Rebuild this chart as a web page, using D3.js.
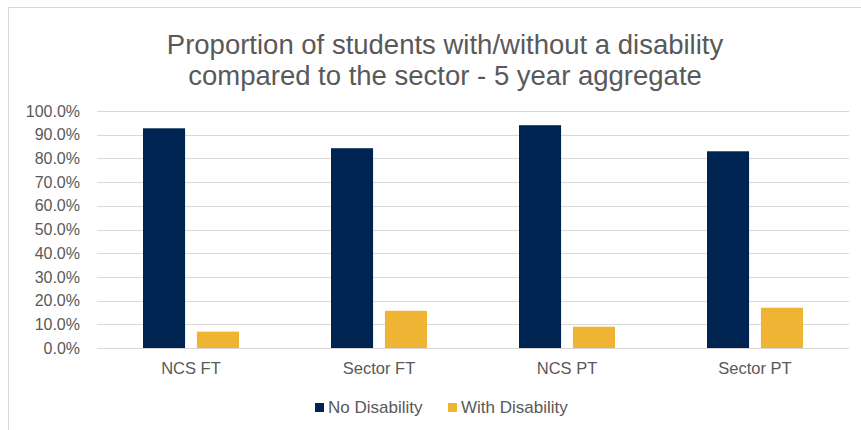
<!DOCTYPE html>
<html>
<head>
<meta charset="utf-8">
<script src="https://cdn.jsdelivr.net/npm/d3@7"></script>
<style>
  body { margin: 0; background: #fff; }
  text { font-family: "Liberation Sans", Arial, sans-serif; fill: #595959; }
</style>
</head>
<body>
<div id="chart"></div>
<script>
// data
var categories = ["NCS FT", "Sector FT", "NCS PT", "Sector PT"];
var seriesNames = ["No Disability", "With Disability"];
var noDisability = [0.927, 0.843, 0.940, 0.830];
var withDisability = [0.069, 0.157, 0.090, 0.170];
var yTicks = [0, 0.1, 0.2, 0.3, 0.4, 0.5, 0.6, 0.7, 0.8, 0.9, 1.0];
var titleLines = ["Proportion of students with/without a disability",
                  "compared to the sector - 5 year aggregate"];
var colors = ["#002452", "#f0b434"];

var width = 861, height = 430;
var margin = {top: 111, right: 12, bottom: 82, left: 97};

var svg = d3.select("#chart").append("svg")
    .attr("width", width)
    .attr("height", height);

// chart area border (only top/left visible, the rest runs off the picture)
svg.append("rect")
    .attr("x", 8.5).attr("y", 7.5)
    .attr("width", width + 20).attr("height", height + 20)
    .attr("fill", "none")
    .attr("stroke", "#d9d9d9")
    .attr("stroke-width", 1);

// title
svg.append("text")
    .attr("text-anchor", "middle")
    .style("font-size", "27.5px")
    .selectAll("tspan")
    .data(titleLines)
    .enter().append("tspan")
      .attr("x", 445)
      .attr("y", function(d, i) { return 54 + i * 31; })
      .text(function(d) { return d; });

var x = d3.scaleBand()
    .domain(categories)
    .range([margin.left, width - margin.right]);

var y = d3.scaleLinear()
    .domain([0, 1])
    .range([height - margin.bottom, margin.top]);

var x1 = d3.scaleBand()
    .domain(seriesNames)
    .range([0, 96])
    .paddingInner(0.22);

// gridlines
svg.append("g")
    .selectAll("line")
    .data(yTicks)
    .enter().append("line")
      .attr("x1", margin.left)
      .attr("x2", width - margin.right)
      .attr("y1", function(d) { return Math.round(y(d)) + 0.5; })
      .attr("y2", function(d) { return Math.round(y(d)) + 0.5; })
      .attr("stroke", "#d9d9d9")
      .attr("stroke-width", 1);

// y axis labels
var yAxis = d3.axisLeft(y)
    .tickValues(yTicks)
    .tickFormat(d3.format(".1%"))
    .tickSize(0)
    .tickPadding(17);

var gy = svg.append("g")
    .attr("transform", "translate(" + margin.left + ",0)")
    .call(yAxis);
gy.select(".domain").remove();
gy.selectAll("text").style("font-size", "16px").attr("fill", "#595959");

// x axis labels
var xAxis = d3.axisBottom(x).tickSize(0).tickPadding(14);
var gx = svg.append("g")
    .attr("transform", "translate(0," + (height - margin.bottom) + ")")
    .call(xAxis);
gx.select(".domain").remove();
gx.selectAll("text").style("font-size", "16.5px").attr("fill", "#595959");

// bars
var rows = categories.map(function(c, i) {
  return {cat: c, vals: [noDisability[i], withDisability[i]]};
});

var groups = svg.append("g")
    .selectAll("g")
    .data(rows)
    .enter().append("g")
      .attr("transform", function(d) {
        return "translate(" + (x(d.cat) + x.bandwidth() / 2 - 48) + ",0)";
      });

groups.selectAll("rect")
    .data(function(d) { return d.vals.map(function(v, j) { return {name: seriesNames[j], v: v, j: j}; }); })
    .enter().append("rect")
      .attr("x", function(d) { return x1(d.name); })
      .attr("width", x1.bandwidth())
      .attr("y", function(d) { return y(d.v); })
      .attr("height", function(d) { return y(0) - y(d.v); })
      .attr("fill", function(d) { return colors[d.j]; });

// legend
var legendX = [315, 448];
var legend = svg.append("g")
    .selectAll("g")
    .data(seriesNames)
    .enter().append("g")
      .attr("transform", function(d, i) { return "translate(" + legendX[i] + ",403)"; });

legend.append("rect")
    .attr("width", 9).attr("height", 9)
    .attr("fill", function(d, i) { return colors[i]; });

legend.append("text")
    .attr("x", 13)
    .attr("y", 10)
    .style("font-size", "17px")
    .text(function(d) { return d; });
</script>
</body>
</html>
